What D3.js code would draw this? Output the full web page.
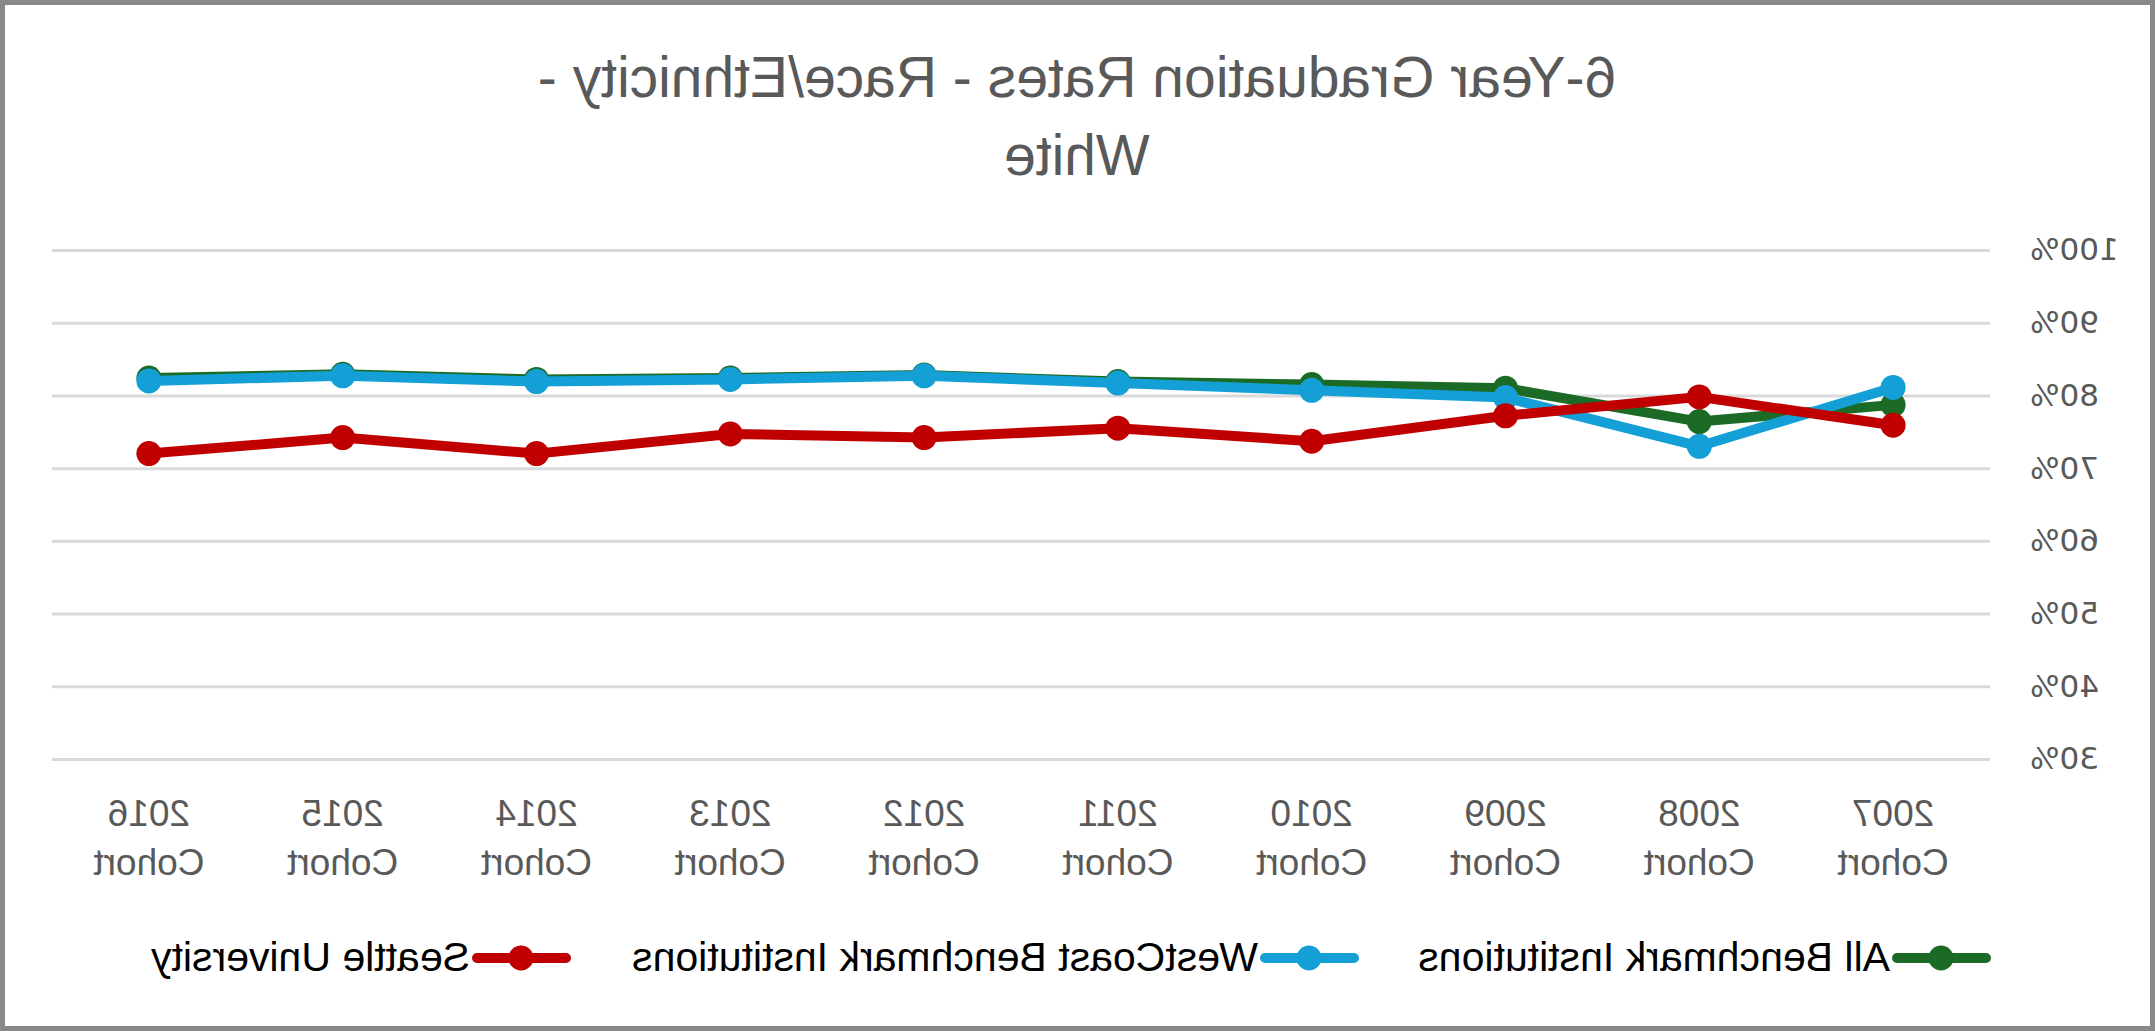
<!DOCTYPE html>
<html>
<head>
<meta charset="utf-8">
<script src="https://cdn.jsdelivr.net/npm/d3@7"></script>
<style>
  html, body { margin: 0; padding: 0; background: #fff; }
  svg { display: block; }
</style>
</head>
<body>
<svg id="chart" width="2155" height="1031"></svg>
<script>
// ---- data ----
const categories = ["2007", "2008", "2009", "2010", "2011", "2012", "2013", "2014", "2015", "2016"];
const categorySuffix = "Cohort";
const seriesNames = ["All Benchmark Institutions", "WestCoast Benchmark Institutions", "Seattle University"];
const allBenchmark = [0.787, 0.764, 0.810, 0.815, 0.819, 0.828, 0.824, 0.822, 0.829, 0.824];
const westCoast    = [0.811, 0.730, 0.797, 0.807, 0.817, 0.827, 0.822, 0.819, 0.827, 0.820];
const seattleU     = [0.759, 0.798, 0.772, 0.737, 0.755, 0.742, 0.747, 0.720, 0.742, 0.720];
const yTicks = [0.3, 0.4, 0.5, 0.6, 0.7, 0.8, 0.9, 1.0];
const titleLines = ["6-Year Graduation Rates - Race/Ethnicity -", "White"];

const colors = ["#1b6b27", "#14a0d6", "#c00000"];
const seriesValues = [allBenchmark, westCoast, seattleU];

const W = 2155, H = 1031;
const svg = d3.select("#chart");
svg.append("rect").attr("width", W).attr("height", H).attr("fill", "#fff");

// mirrored root (reference is horizontally flipped)
const root = svg.append("g").attr("transform", `translate(${W},0) scale(-1,1)`);

// border
root.append("rect")
  .attr("x", 2.5).attr("y", 2.5).attr("width", W - 5).attr("height", H - 5)
  .attr("fill", "none").attr("stroke", "#898989").attr("stroke-width", 5);

const x = d3.scaleBand().domain(categories).range([165, 2103]);
const y = d3.scaleLinear().domain([0.3, 1.0]).range([759, 250]);
const cx = c => x(c) + x.bandwidth() / 2;

// title
root.append("g").selectAll("text").data(titleLines).join("text")
  .attr("x", 1078).attr("y", (d, i) => 97 + i * 78)
  .attr("text-anchor", "middle")
  .attr("font-family", "Liberation Sans, Arial, sans-serif")
  .attr("font-size", 57)
  .attr("fill", "#595959")
  .text(d => d);

// gridlines + y axis
const yAxis = d3.axisLeft(y).tickValues(yTicks).tickFormat(d3.format(".0%"))
  .tickSize(-(2103 - 165)).tickPadding(40);
const yg = root.append("g").attr("transform", "translate(165,0)").call(yAxis);
yg.select(".domain").remove();
yg.selectAll(".tick line").attr("stroke", "#d9d9d9").attr("stroke-width", 3);
yg.selectAll(".tick text")
  .attr("font-family", "DejaVu Sans, sans-serif")
  .attr("font-size", 31)
  .attr("fill", "#595959");

// x axis labels (two lines)
const xAxis = d3.axisBottom(x).tickSize(0).tickFormat("");
const xg = root.append("g").attr("transform", "translate(0,759)").call(xAxis);
xg.select(".domain").remove();
xg.selectAll(".tick").each(function(d) {
  const t = d3.select(this).append("text")
    .attr("text-anchor", "middle")
    .attr("font-family", "Liberation Sans, Arial, sans-serif")
    .attr("font-size", 37)
    .attr("fill", "#595959");
  t.append("tspan").attr("x", 0).attr("y", 67).text(d);
  t.append("tspan").attr("x", 0).attr("y", 116).text(categorySuffix);
});

// series
const line = d3.line().x((d, i) => cx(categories[i])).y(d => y(d));
seriesValues.forEach((vals, s) => {
  const g = root.append("g");
  g.append("path").datum(vals)
    .attr("d", line)
    .attr("fill", "none")
    .attr("stroke", colors[s])
    .attr("stroke-width", 10)
    .attr("stroke-linejoin", "round")
    .attr("stroke-linecap", "round");
  g.selectAll("circle").data(vals).join("circle")
    .attr("cx", (d, i) => cx(categories[i]))
    .attr("cy", d => y(d))
    .attr("r", 12.5)
    .attr("fill", colors[s]);
});

// legend
const legendX = [165, 797, 1585];
const legendY = 958;
const lg = root.append("g");
seriesNames.forEach((name, s) => {
  const x0 = legendX[s];
  lg.append("line")
    .attr("x1", x0 + 4).attr("x2", x0 + 93)
    .attr("y1", legendY).attr("y2", legendY)
    .attr("stroke", colors[s]).attr("stroke-width", 10).attr("stroke-linecap", "round");
  lg.append("circle").attr("cx", x0 + 49).attr("cy", legendY).attr("r", 12.5).attr("fill", colors[s]);
  lg.append("text")
    .attr("x", x0 + 100).attr("y", 971)
    .attr("font-family", "Liberation Sans, Arial, sans-serif")
    .attr("font-size", 41)
    .attr("fill", "#000")
    .text(name);
});
</script>
</body>
</html>
